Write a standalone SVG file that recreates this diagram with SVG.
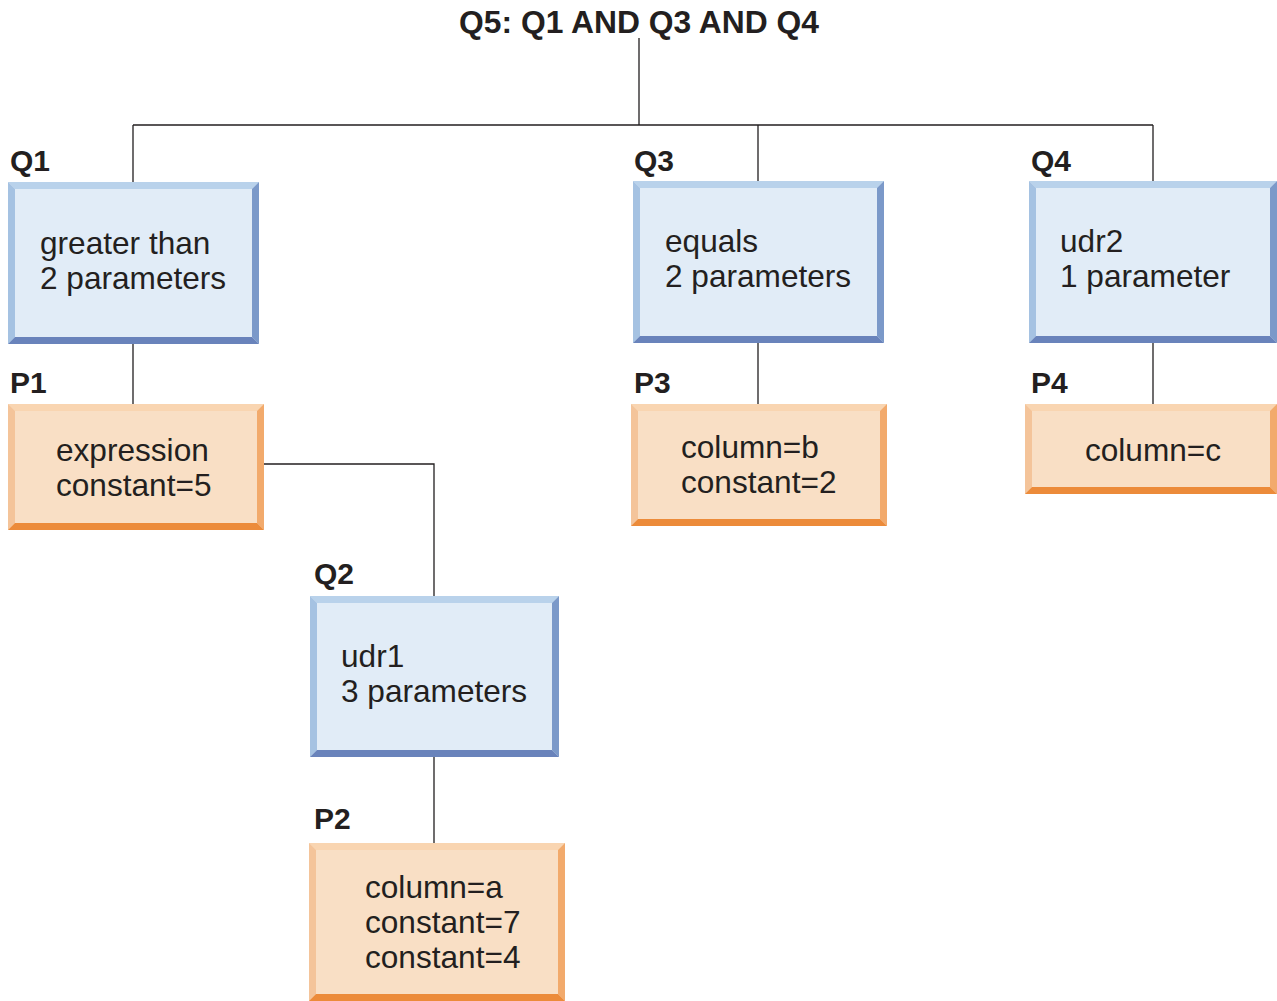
<svg xmlns="http://www.w3.org/2000/svg" width="1277" height="1001" viewBox="0 0 1277 1001">
  <style>
    .lbl { font-family: "Liberation Sans", Arial, sans-serif; font-weight: bold; font-size: 30px; fill: #231f20; }
    .ttl { font-size: 31.8px; }
    .txt { font-family: "Liberation Sans", Arial, sans-serif; font-size: 31.6px; fill: #231f20; }
    .wire { fill: none; stroke: #231f20; stroke-width: 1.3; }
    .q-in { fill: #e1ecf7; }
    .q-t { fill: #b9d2eb; } .q-l { fill: #a5c2e2; } .q-r { fill: #7b99c9; } .q-b { fill: #6983bb; }
    .p-in { fill: #f9dfc5; }
    .p-t { fill: #f9d5b1; } .p-l { fill: #f4c49a; } .p-r { fill: #f2aa6c; } .p-b { fill: #ec8b3a; }
  </style>
  <rect width="1277" height="1001" fill="#ffffff"/>

  <g id="connectors">
    <path class="wire" d="M639 38 V125 M133 125 H1153 M133 125 V183 M758 125 V182 M1153 125 V182"/>
    <path class="wire" d="M133 343 V405 M758 342 V405 M1153 342 V405"/>
    <path class="wire" d="M263 464 H434 V597 M434 756 V844"/>
  </g>

  <text class="lbl ttl" x="639" y="33" text-anchor="middle">Q5: Q1 AND Q3 AND Q4</text>

  <!-- Q1 -->
  <g id="q1">
    <text class="lbl" x="10" y="171">Q1</text>
    <rect class="q-in" x="8" y="182" width="251" height="162"/>
    <polygon class="q-t" points="8,182 259,182 252,189 15,189"/>
    <polygon class="q-l" points="8,182 15,189 15,337 8,344"/>
    <polygon class="q-r" points="259,182 259,344 252,337 252,189"/>
    <polygon class="q-b" points="8,344 15,337 252,337 259,344"/>
    <text class="txt" x="40" y="254">greater than</text>
    <text class="txt" x="40" y="289">2 parameters</text>
  </g>

  <!-- P1 -->
  <g id="p1">
    <text class="lbl" x="10" y="393">P1</text>
    <rect class="p-in" x="8" y="404" width="256" height="126"/>
    <polygon class="p-t" points="8,404 264,404 257,411 15,411"/>
    <polygon class="p-l" points="8,404 15,411 15,523 8,530"/>
    <polygon class="p-r" points="264,404 264,530 257,523 257,411"/>
    <polygon class="p-b" points="8,530 15,523 257,523 264,530"/>
    <text class="txt" x="56" y="461">expression</text>
    <text class="txt" x="56" y="496">constant=5</text>
  </g>

  <!-- Q3 -->
  <g id="q3">
    <text class="lbl" x="634" y="171">Q3</text>
    <rect class="q-in" x="633" y="181" width="251" height="162"/>
    <polygon class="q-t" points="633,181 884,181 877,188 640,188"/>
    <polygon class="q-l" points="633,181 640,188 640,336 633,343"/>
    <polygon class="q-r" points="884,181 884,343 877,336 877,188"/>
    <polygon class="q-b" points="633,343 640,336 877,336 884,343"/>
    <text class="txt" x="665" y="252">equals</text>
    <text class="txt" x="665" y="287">2 parameters</text>
  </g>

  <!-- P3 -->
  <g id="p3">
    <text class="lbl" x="634" y="393">P3</text>
    <rect class="p-in" x="631" y="404" width="256" height="122"/>
    <polygon class="p-t" points="631,404 887,404 880,411 638,411"/>
    <polygon class="p-l" points="631,404 638,411 638,519 631,526"/>
    <polygon class="p-r" points="887,404 887,526 880,519 880,411"/>
    <polygon class="p-b" points="631,526 638,519 880,519 887,526"/>
    <text class="txt" x="681" y="458">column=b</text>
    <text class="txt" x="681" y="493">constant=2</text>
  </g>

  <!-- Q4 -->
  <g id="q4">
    <text class="lbl" x="1031" y="171">Q4</text>
    <rect class="q-in" x="1029" y="181" width="248" height="162"/>
    <polygon class="q-t" points="1029,181 1277,181 1270,188 1036,188"/>
    <polygon class="q-l" points="1029,181 1036,188 1036,336 1029,343"/>
    <polygon class="q-r" points="1277,181 1277,343 1270,336 1270,188"/>
    <polygon class="q-b" points="1029,343 1036,336 1270,336 1277,343"/>
    <text class="txt" x="1060" y="252">udr2</text>
    <text class="txt" x="1060" y="287">1 parameter</text>
  </g>

  <!-- P4 -->
  <g id="p4">
    <text class="lbl" x="1031" y="393">P4</text>
    <rect class="p-in" x="1025" y="404" width="252" height="90"/>
    <polygon class="p-t" points="1025,404 1277,404 1270,411 1032,411"/>
    <polygon class="p-l" points="1025,404 1032,411 1032,487 1025,494"/>
    <polygon class="p-r" points="1277,404 1277,494 1270,487 1270,411"/>
    <polygon class="p-b" points="1025,494 1032,487 1270,487 1277,494"/>
    <text class="txt" x="1153" y="461" text-anchor="middle">column=c</text>
  </g>

  <!-- Q2 -->
  <g id="q2">
    <text class="lbl" x="314" y="584">Q2</text>
    <rect class="q-in" x="310" y="596" width="249" height="161"/>
    <polygon class="q-t" points="310,596 559,596 552,603 317,603"/>
    <polygon class="q-l" points="310,596 317,603 317,750 310,757"/>
    <polygon class="q-r" points="559,596 559,757 552,750 552,603"/>
    <polygon class="q-b" points="310,757 317,750 552,750 559,757"/>
    <text class="txt" x="341" y="667">udr1</text>
    <text class="txt" x="341" y="702">3 parameters</text>
  </g>

  <!-- P2 -->
  <g id="p2">
    <text class="lbl" x="314" y="829">P2</text>
    <rect class="p-in" x="309" y="843" width="256" height="158"/>
    <polygon class="p-t" points="309,843 565,843 558,850 316,850"/>
    <polygon class="p-l" points="309,843 316,850 316,994 309,1001"/>
    <polygon class="p-r" points="565,843 565,1001 558,994 558,850"/>
    <polygon class="p-b" points="309,1001 316,994 558,994 565,1001"/>
    <text class="txt" x="365" y="898">column=a</text>
    <text class="txt" x="365" y="933">constant=7</text>
    <text class="txt" x="365" y="968">constant=4</text>
  </g>
</svg>
